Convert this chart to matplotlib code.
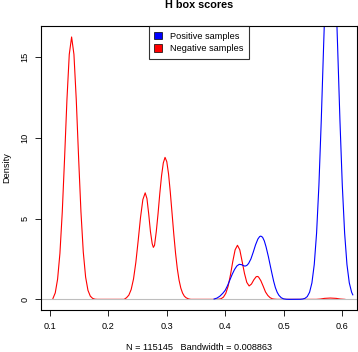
import matplotlib
matplotlib.use("Agg")
import matplotlib.pyplot as plt
from matplotlib.patches import Patch

plt.rcParams["font.family"] = ["Liberation Sans", "DejaVu Sans"]

# density curves (x = H box score, y = density)
neg_x = [0.105, 0.109, 0.113, 0.117, 0.121, 0.125, 0.129, 0.133, 0.137, 0.141,
         0.145, 0.149, 0.153, 0.157, 0.161, 0.165, 0.169, 0.173, 0.177, 0.181,
         0.227, 0.231, 0.235, 0.239, 0.243, 0.247, 0.251, 0.255, 0.259, 0.263,
         0.266, 0.269, 0.272, 0.275, 0.277, 0.279, 0.282, 0.285, 0.288, 0.291,
         0.294, 0.297, 0.300, 0.303, 0.306, 0.309, 0.312, 0.315, 0.318, 0.321,
         0.324, 0.327, 0.330, 0.333, 0.337, 0.341, 0.385, 0.389, 0.393, 0.397,
         0.401, 0.405, 0.409, 0.413, 0.417, 0.421, 0.425, 0.429, 0.433, 0.437,
         0.441, 0.445, 0.449, 0.453, 0.455, 0.457, 0.461, 0.465, 0.469, 0.473,
         0.477, 0.481, 0.485, 0.489, 0.556, 0.563, 0.570, 0.580, 0.590, 0.597,
         0.605]
neg_y = [0.05, 0.40, 1.25, 2.85, 5.40, 8.77, 12.36, 15.18, 16.26, 15.18,
         12.36, 8.77, 5.43, 2.93, 1.38, 0.56, 0.20, 0.06, 0.01, 0.0,
         0.0, 0.10, 0.26, 0.61, 1.26, 2.29, 3.64, 5.07, 6.18, 6.60,
         6.25, 5.30, 4.20, 3.45, 3.22, 3.35, 4.20, 5.30, 6.55, 7.65,
         8.45, 8.80, 8.53, 7.77, 6.64, 5.34, 4.03, 2.86, 1.90, 1.19,
         0.70, 0.39, 0.20, 0.10, 0.03, 0.0, 0.0, 0.01, 0.04, 0.14,
         0.37, 0.81, 1.51, 2.35, 3.07, 3.35, 3.07, 2.35, 1.61, 1.05,
         0.83, 0.95, 1.21, 1.40, 1.42, 1.39, 1.16, 0.82, 0.46, 0.24,
         0.10, 0.03, 0.01, 0.0, 0.0, 0.02, 0.06, 0.08, 0.06, 0.02,
         0.0]

pos_x = [0.381, 0.386, 0.391, 0.396, 0.400, 0.404, 0.408, 0.412, 0.416, 0.420,
         0.424, 0.428, 0.431, 0.434, 0.437, 0.440, 0.444, 0.448, 0.452, 0.456,
         0.459, 0.461, 0.464, 0.467, 0.470, 0.474, 0.477, 0.480, 0.483, 0.486,
         0.489, 0.492, 0.496, 0.500, 0.505, 0.510, 0.5285, 0.5325, 0.5365, 0.5405,
         0.5445, 0.5485, 0.5525, 0.5565, 0.5605, 0.5645, 0.5685, 0.5725, 0.5765, 0.5805,
         0.5845, 0.5885, 0.5925, 0.5965, 0.6005, 0.6045, 0.6085, 0.6125, 0.6165, 0.6185]
pos_y = [0.02, 0.08, 0.20, 0.38, 0.56, 0.85, 1.20, 1.55, 1.85, 2.07,
         2.17, 2.15, 2.09, 2.06, 2.10, 2.22, 2.50, 2.92, 3.38, 3.74,
         3.89, 3.92, 3.85, 3.62, 3.25, 2.64, 2.12, 1.61, 1.12, 0.72,
         0.44, 0.25, 0.10, 0.03, 0.005, 0.0, 0.005, 0.02, 0.06, 0.17,
         0.44, 1.02, 2.16, 4.11, 7.09, 11.08, 15.68, 20.09, 23.31, 24.5,
         23.31, 20.09, 15.68, 11.08, 7.09, 4.11, 2.16, 1.02, 0.44, 0.28]

x_ticks = [0.1, 0.2, 0.3, 0.4, 0.5, 0.6]
y_ticks = [0, 5, 10, 15]

W, H = 358, 352
fig = plt.figure(figsize=(W / 100, H / 100), dpi=100)
ax = fig.add_axes([41 / W, 1 - 310 / H, 316 / W, 284 / H])

ax.plot(neg_x, neg_y, color="#FF0000", lw=0.8)
ax.axhline(0, color="#BEBEBE", lw=0.8)
ax.plot(pos_x, pos_y, color="#0000FF", lw=0.8)

ax.set_xlim(0.0846, 0.6257)
ax.set_ylim(-0.66, 16.94)
ax.set_xticks(x_ticks)
ax.set_xticklabels([str(t) for t in x_ticks])
ax.set_yticks(y_ticks)
ax.set_yticklabels([str(t) for t in y_ticks], rotation=90, va="center")
ax.tick_params(direction="out", length=4.3, width=0.6, labelsize=6.6, pad=4.0)
for s in ax.spines.values():
    s.set_linewidth(0.8)

handles = [Patch(facecolor="#0000FF", edgecolor="black", lw=0.5),
           Patch(facecolor="#FF0000", edgecolor="black", lw=0.5)]
leg = ax.legend(handles, ["Positive samples", "Negative samples"], loc="upper center",
                fontsize=6.6, frameon=True, fancybox=False, borderaxespad=0,
                handlelength=0.85, handleheight=0.85, handletextpad=0.9,
                labelspacing=0.4, borderpad=0.6)
leg.get_frame().set_edgecolor("black")
leg.get_frame().set_linewidth(0.8)

fig.text(199 / W, 1 - 5 / H, "H box scores", ha="center", va="center",
         fontsize=7.8, fontweight="bold")
fig.text(199 / W, 1 - 348 / H, "N = 115145   Bandwidth = 0.008863",
         ha="center", va="center", fontsize=6.6)
fig.text(7 / W, 1 - 168 / H, "Density", rotation=90, ha="center", va="center",
         fontsize=6.6)

fig.savefig("out.png", dpi=100)
